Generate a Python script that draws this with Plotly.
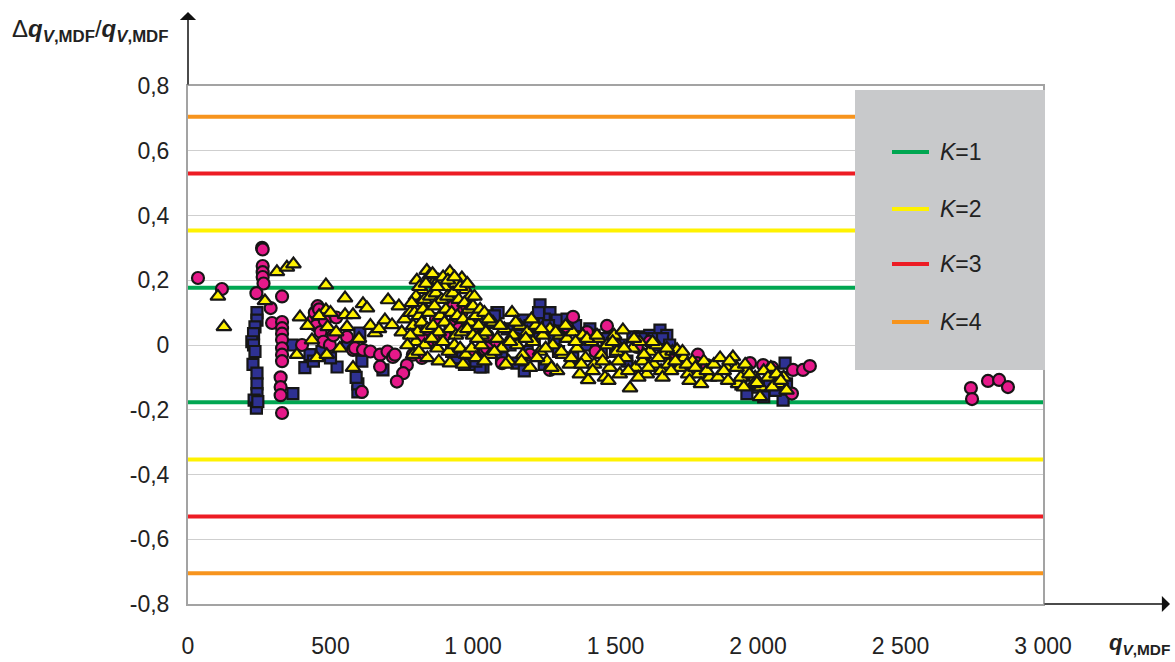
import plotly.graph_objects as go

# --- measured relative deviation vs. flow rate -------------------------------
circle_x = [35, 119, 260, 262, 262, 262, 262, 265, 240, 330, 290, 295, 330, 330, 330,
            330, 330, 330, 330, 325, 325, 325, 330, 400, 440, 445, 455, 460, 470, 450,
            465, 480, 475, 498, 510, 520, 558, 579, 586, 614, 640, 674, 674, 610, 700,
            719, 726, 768, 755, 733, 789, 821, 849, 877, 900, 920, 940, 960, 979, 996,
            1042, 1000, 1020, 820, 840, 870, 930, 950, 1010, 1050, 1080,
            1049, 1102, 1150, 1200, 1270, 1330, 1351, 1400, 1470, 1430, 1500, 1575,
            1620, 1700, 1789, 1786, 1821, 1780, 1972, 2018, 2050, 2123, 2158, 2182,
            2119, 2747, 2751, 2807, 2846, 2877]
circle_y = [0.207, 0.173, 0.300, 0.295, 0.244, 0.225, 0.210, 0.190, 0.160, 0.150, 0.114,
            0.068, 0.071, 0.052, 0.035, 0.016, -0.010, -0.030, -0.050, -0.100, -0.130,
            -0.155, -0.210, 0.000, 0.077, 0.100, 0.120, 0.110, 0.090, 0.060, 0.040,
            0.075, 0.010, 0.000, 0.030, 0.085, 0.025, -0.015, -0.010, -0.015, -0.020,
            -0.030, -0.067, -0.145, -0.020, -0.037, -0.030, -0.062, -0.087, -0.113,
            -0.030, -0.040, 0.015, 0.015, 0.030, 0.060, 0.090, 0.100, 0.120, -0.030,
            -0.015, 0.070, 0.050, 0.020, 0.050, 0.080, 0.120, 0.050, 0.060, 0.030,
            0.000, -0.010, -0.056, 0.020, -0.030, -0.077, 0.056, 0.087, 0.040, 0.059,
            -0.020, 0.000, -0.006, 0.010, -0.040, -0.030, -0.056, -0.062, -0.080,
            -0.056, -0.062, -0.070, -0.077, -0.077, -0.065, -0.150, -0.133, -0.167,
            -0.111, -0.108, -0.130]

square_x = [242, 242, 235, 230, 224, 230, 235, 228, 242, 242, 242, 232, 240, 245, 368,
            365, 410, 428, 523, 596, 610, 603, 684, 596, 590, 560, 470, 500, 440,
            954, 980, 1000, 1035, 1020, 1060, 1084, 1088, 1235, 1270, 1295, 1175, 1154,
            1120, 1200, 1250, 1320, 1380, 1410, 1450, 1561, 1586, 1620, 1656, 1680,
            1650, 1600, 1500, 1350, 1250, 1180, 1100, 1025,
            1961, 2000, 2040, 2088, 2095, 2080, 2060, 2100, 1940, 2020,
            1130, 1160, 1190, 1215, 1230, 1265, 1285, 1300, 1330, 1360, 1395, 1425,
            1470, 1520, 1540, 1590, 1635, 1665, 1690, 1060, 1075, 1010, 970, 940, 925]
square_y = [0.100, 0.077, 0.056, 0.035, 0.010, 0.000, -0.020, -0.060, -0.087, -0.120,
            -0.150, -0.170, -0.195, -0.175, -0.150, 0.000, -0.070, -0.030, -0.068,
            -0.145, -0.050, 0.037, -0.077, -0.120, -0.100, 0.000, -0.020, -0.040,
            -0.050, -0.030, -0.050, -0.060, -0.068, -0.040, -0.020, 0.100, 0.100,
            0.124, 0.100, 0.077, 0.077, -0.056, 0.050, 0.060, 0.080, 0.040, 0.020,
            0.050, -0.020, 0.025, 0.025, 0.030, 0.046, 0.030, 0.000, -0.030, -0.020,
            -0.040, -0.060, -0.080, -0.040, -0.068,
            -0.150, -0.130, -0.120, -0.170, -0.056, -0.100, -0.140, -0.120, -0.120,
            -0.160,
            0.000, 0.030, -0.020, 0.020, 0.100, 0.060, 0.020, -0.020, 0.080, 0.060,
            0.000, 0.030, 0.020, 0.000, -0.050, 0.020, 0.020, 0.020, 0.000, 0.070,
            0.090, -0.050, -0.060, -0.040, -0.020]

triangle_x = [105, 126, 270, 312, 347, 370, 484, 393, 484, 382, 435, 452, 487, 490, 420,
              460, 500, 551, 614, 628, 702, 740, 691, 716, 656, 558, 551, 579, 579, 533,
              520, 600, 640, 670, 750, 760, 780,
              803, 838, 849, 919, 961, 821, 860, 880, 900, 940, 975, 990,
              800, 815, 830, 850, 870, 890, 910, 930, 950, 970, 985, 1000,
              795, 810, 825, 845, 865, 885, 905, 925, 945, 965, 990, 1010,
              790, 805, 820, 840, 860, 880, 900, 920, 940, 960, 980, 1000,
              800, 830, 855, 875, 895, 915, 935, 955, 975, 995,
              840, 880, 919, 965, 1010,
              785, 812, 835, 858, 875, 895, 912, 935, 955, 980, 1005, 1025, 1040,
              780, 770, 790, 810, 1030,
              1020, 1030, 1045, 1060, 1070, 1085, 1100, 1110, 1125, 1137, 1140, 1155,
              1165, 1175, 1190, 1200, 1210, 1220, 1235, 1245, 1260, 1270, 1280, 1295,
              1305, 1315, 1330, 1340, 1350, 1365, 1375, 1385, 1395, 1404, 1415, 1425,
              1440, 1450, 1463, 1470, 1480, 1495, 1505, 1515, 1526, 1535, 1551, 1560,
              1570, 1585, 1595, 1610, 1620, 1635, 1645, 1660, 1670, 1685, 1700, 1716,
              1725, 1740, 1755, 1770, 1790, 1810, 1830, 1760, 1800,
              1015, 1040, 1055, 1075, 1095, 1115, 1130, 1150, 1170, 1185, 1205, 1225,
              1240, 1255, 1275, 1290, 1310, 1325, 1345, 1360, 1380, 1400, 1420, 1435,
              1455, 1475, 1490, 1510, 1530, 1545, 1565, 1580, 1600, 1615, 1630, 1650,
              1665, 1680, 1695, 1710, 1735, 1750, 1780, 1820, 1845, 1860, 1890, 1930,
              1960, 1990, 2010, 2045, 2070, 2090,
              1867, 1880, 1895, 1912, 1925, 1940, 1955, 1970, 1985, 1996, 2007, 2020,
              2035, 2050, 2065, 2080, 2100, 1900, 1950]
triangle_y = [0.150, 0.056, 0.136, 0.226, 0.240, 0.250, 0.185, 0.086, 0.108, -0.030,
              0.015, -0.040, -0.030, 0.056, 0.060, 0.090, 0.100, 0.145, 0.127, 0.114,
              0.139, 0.120, 0.077, 0.062, 0.037, 0.056, 0.093, 0.093, -0.070, -0.010,
              0.040, 0.020, 0.060, 0.050, 0.040, 0.080, 0.100,
              0.200, 0.230, 0.216, 0.226, 0.207, 0.170, 0.190, 0.200, 0.180, 0.190,
              0.170, 0.150,
              0.150, 0.130, 0.140, 0.150, 0.160, 0.140, 0.150, 0.160, 0.140, 0.130,
              0.110, 0.120,
              0.100, 0.090, 0.110, 0.100, 0.120, 0.090, 0.110, 0.100, 0.090, 0.080,
              0.070, 0.090,
              0.060, 0.040, 0.070, 0.050, 0.060, 0.040, 0.070, 0.050, 0.030, 0.040,
              0.050, 0.030,
              0.010, 0.000, 0.020, -0.010, 0.010, -0.020, 0.000, -0.010, -0.030, -0.010,
              -0.040, -0.050, -0.056, -0.060, -0.040,
              0.130, 0.180, 0.190, 0.220, 0.180, 0.210, 0.200, 0.210, 0.180, 0.190,
              0.150, 0.110, 0.100,
              0.030, 0.000, -0.030, -0.020, 0.030,
              0.060, 0.000, 0.040, -0.030, 0.070, 0.020, -0.010, 0.050, -0.050, 0.100,
              0.030, 0.000, 0.060, -0.030, 0.040, -0.070, 0.010, 0.060, -0.020, 0.030,
              -0.050, 0.050, 0.000, -0.080, 0.030, -0.030, 0.020, -0.060, 0.040, -0.010,
              -0.090, 0.030, -0.040, -0.108, 0.010, -0.060, 0.020, -0.030, -0.100,
              0.000, -0.070, 0.030, -0.020, -0.090, 0.046, -0.040, -0.133, -0.010,
              -0.070, 0.010, -0.050, -0.090, -0.020, -0.060, 0.000, -0.080, -0.030,
              -0.060, -0.020, -0.015, -0.070, -0.040, -0.090, -0.050, -0.090, -0.050,
              -0.100, -0.110, -0.120,
              0.020, -0.050, 0.080, -0.020, 0.060, -0.060, 0.010, 0.070, -0.050, 0.020,
              0.080, -0.040, 0.050, -0.010, -0.070, 0.040, -0.020, 0.060, -0.040, 0.010,
              -0.060, 0.020, -0.080, 0.030, -0.050, -0.110, 0.010, -0.050, -0.010,
              -0.080, 0.020, -0.100, -0.030, -0.070, 0.010, -0.040, -0.100, -0.010,
              -0.080, -0.050, -0.020, -0.060, -0.070, -0.080, -0.060, -0.100, -0.070,
              -0.120, -0.080, -0.100, -0.130, -0.070, -0.120, -0.100,
              -0.040, -0.080, -0.110, -0.037, -0.070, -0.100, -0.060, -0.090, -0.120,
              -0.117, -0.160, -0.080, -0.100, -0.130, -0.090, -0.110, -0.140, -0.050,
              -0.130]

# --- expanded-uncertainty limits for coverage factors K = 1..4 ----------------
k_labels = ["K=1", "K=2", "K=3", "K=4"]
k_limits = [0.177, 0.354, 0.530, 0.705]
k_colors = ["#00a651", "#fff200", "#ed1c24", "#f7941d"]

# --- axis ticks ---------------------------------------------------------------
x_tickvals = [0, 500, 1000, 1500, 2000, 2500, 3000]
x_ticktext = ["0", "500", "1 000", "1 500", "2 000", "2 500", "3 000"]
y_tickvals = [0.8, 0.6, 0.4, 0.2, 0.0, -0.2, -0.4, -0.6, -0.8]
y_ticktext = ["0,8", "0,6", "0,4", "0,2", "0", "-0,2", "-0,4", "-0,6", "-0,8"]

FONT = "Liberation Sans, Arial, sans-serif"
OUTLINE = dict(color="#161616", width=2.2)

fig = go.Figure()

# limit lines (drawn first, beneath the measurements)
for lim, col in zip(k_limits, k_colors):
    for sign in (1, -1):
        fig.add_trace(go.Scatter(x=[0, 3000], y=[sign * lim, sign * lim], mode="lines",
                                 line=dict(color=col, width=4), showlegend=False,
                                 hoverinfo="skip"))

fig.add_trace(go.Scatter(x=square_x, y=square_y, mode="markers", showlegend=False,
                         marker=dict(symbol="square", size=11, color="#2e3192",
                                     line=OUTLINE)))
fig.add_trace(go.Scatter(x=circle_x, y=circle_y, mode="markers", showlegend=False,
                         marker=dict(symbol="circle", size=12, color="#e6198a",
                                     line=OUTLINE)))
fig.add_trace(go.Scatter(x=triangle_x, y=triangle_y, mode="markers", showlegend=False,
                         marker=dict(symbol="triangle-up", size=13, color="#fff200",
                                     line=OUTLINE)))

# plot area occupies pixels 188..1043 (x) and 86..604 (y)
L, R, T, B = 188, 1043, 86, 604
W, H = R - L, B - T


def px(xp):
    return (xp - L) / W


def py(yp):
    return (B - yp) / H


shapes = [dict(type="rect", xref="paper", yref="paper", layer="above",
               x0=px(855), x1=px(1045), y0=py(370), y1=py(90),
               fillcolor="#c8c9cb", line=dict(width=0))]
annotations = []
legend_rows = [152, 209, 264, 322]
for lab, col, row in zip(k_labels, k_colors, legend_rows):
    shapes.append(dict(type="line", xref="paper", yref="paper", layer="above",
                       x0=px(892), x1=px(929), y0=py(row), y1=py(row),
                       line=dict(color=col, width=4)))
    k, rest = lab.split("=")
    annotations.append(dict(xref="paper", yref="paper", x=px(938), y=py(row),
                            xanchor="left", yanchor="middle", showarrow=False,
                            text=f"<i>{k}</i>={rest}",
                            font=dict(family=FONT, size=23, color="#222222")))

# axis arrows
annotations.append(dict(xref="paper", yref="paper", x=0, y=py(12), text="",
                        showarrow=True, ax=0, ay=T - 12, arrowhead=1, arrowsize=1.8,
                        arrowwidth=1.5, arrowcolor="#111111", standoff=0))
annotations.append(dict(xref="paper", yref="paper", x=px(1170), y=0, text="",
                        showarrow=True, ax=-(1170 - R), ay=0, arrowhead=1,
                        arrowsize=1.8, arrowwidth=1.5, arrowcolor="#111111",
                        standoff=0))

# axis titles
sub = "<sub><b><i>V</i>,MDF</b></sub>"
annotations.append(dict(xref="paper", yref="paper", x=px(170), y=py(30),
                        xanchor="right", yanchor="middle", showarrow=False,
                        text=f"Δ<b><i>q</i></b>{sub}/<b><i>q</i></b>{sub}",
                        font=dict(family=FONT, size=24, color="#222222")))
annotations.append(dict(xref="paper", yref="paper", x=px(1172), y=py(644),
                        xanchor="right", yanchor="middle", showarrow=False,
                        text=f"<b><i>q</i></b>{sub}",
                        font=dict(family=FONT, size=22, color="#222222")))

axis_common = dict(showline=True, linecolor="#a3a3a3", linewidth=2, mirror=True,
                   zeroline=False, ticks="", automargin=False,
                   tickfont=dict(family=FONT, size=23, color="#222222"))

fig.update_layout(
    width=1175, height=662,
    margin=dict(l=L, r=1175 - R, t=T, b=662 - B, pad=0, autoexpand=False),
    paper_bgcolor="white", plot_bgcolor="white",
    xaxis=dict(range=[0, 3000], tickmode="array", tickvals=x_tickvals,
               ticktext=x_ticktext, showgrid=False, ticklabelstandoff=20,
               **axis_common),
    yaxis=dict(range=[-0.8, 0.8], tickmode="array", tickvals=y_tickvals,
               ticktext=y_ticktext, ticklabelstandoff=12, showgrid=True,
               gridcolor="#cfcfcf", gridwidth=1, **axis_common),
    shapes=shapes, annotations=annotations, showlegend=False,
)

fig.write_html("out.html")
